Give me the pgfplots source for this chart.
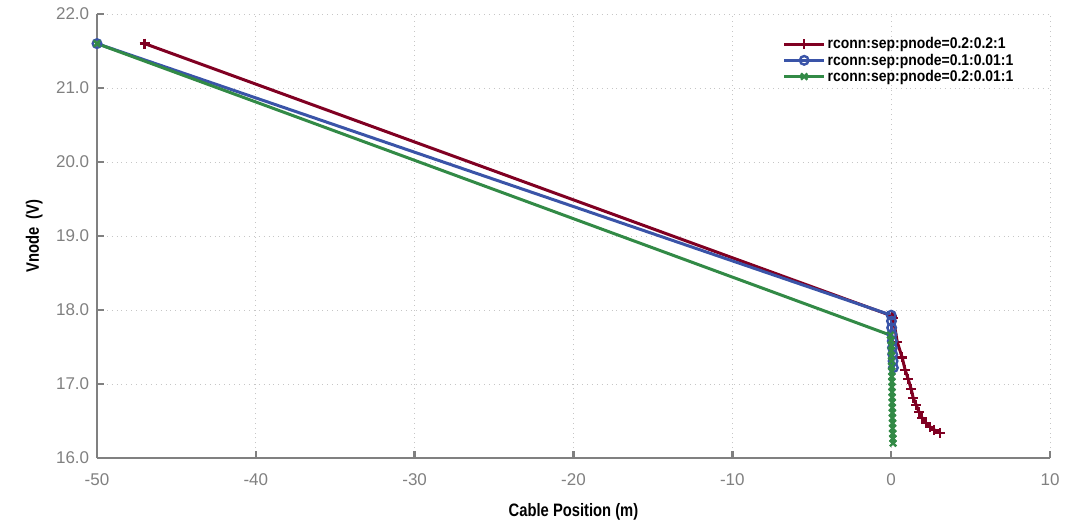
\documentclass[border=0pt]{standalone}
\usepackage{fontspec}
\setmainfont{DejaVu Sans}
\newfontfamily\narrowfont[FakeStretch=0.82]{Liberation Sans}
\newfontfamily\legfont[FakeStretch=0.9]{Liberation Sans}
\newfontfamily\tickfont{Liberation Sans}
\usepackage{pgfplots}
\pgfplotsset{compat=1.18}
\definecolor{cred}{RGB}{128,0,34}
\definecolor{cblue}{RGB}{58,84,168}
\definecolor{cgreen}{RGB}{50,138,70}
\definecolor{axgray}{RGB}{128,128,128}
\begin{document}
\begin{tikzpicture}
\path[use as bounding box] (-97pt,-66pt) rectangle (984pt,458pt);
\begin{axis}[
  at={(0,0)}, anchor=south west,
  scale only axis, width=953pt, height=444pt,
  xmin=-50, xmax=10, ymin=16, ymax=22,
  axis x line*=bottom, axis y line*=left,
  axis line style={axgray, line width=2.5pt},
  xtick={-50,-40,...,10}, ytick={16,17,...,22},
  tick style={axgray, line width=2.5pt},
  major tick length=7pt, tick align=inside,
  grid=major,
  grid style={line width=0.9pt, gray!45, dash pattern=on 0.9pt off 4pt},
  /pgf/number format/assume math mode=true,
  yticklabel style={/pgf/number format/fixed, /pgf/number format/fixed zerofill, /pgf/number format/precision=1, anchor=east, xshift=-4.3pt},
  ticklabel style={font=\tickfont\fontsize{17}{20}\selectfont, text=axgray},
  xticklabel style={anchor=center, yshift=-22pt},
  xlabel={\narrowfont\bfseries\fontsize{18}{21}\selectfont Cable Position (m)},
  ylabel={\narrowfont\bfseries\fontsize{18}{21}\selectfont Vnode\ \ (V)},
  xlabel style={at={(axis description cs:0.5,-0.1216)}, anchor=center},
  ylabel style={at={(axis description cs:-0.066,0.5)}, anchor=center},
  legend style={draw=none, fill=none, at={(0.967,0.956)}, anchor=north east,
    font=\legfont\bfseries\fontsize{15.5}{15.5}\selectfont, row sep=-0.5pt},
  legend cell align=left,
  legend image code/.code={\draw[mark repeat=2,mark phase=2] plot coordinates {(0pt,0pt) (20pt,0pt) (40pt,0pt)};},
]
\addplot[cred, line width=3pt, mark=+, mark size=5pt, mark options={line width=2.4pt}] coordinates {
(-47,21.6) (0.05,17.92) (0.13,17.89) (0.38,17.57) (0.69,17.36) (0.88,17.19) (1.07,17.07)
(1.26,16.93) (1.39,16.81) (1.57,16.72) (1.76,16.62) (1.95,16.54) (2.2,16.47)
(2.46,16.42) (2.71,16.38) (3.09,16.34)};
\addlegendentry{rconn:sep:pnode=0.2:0.2:1}
\addplot[cblue, line width=3pt, mark=o, mark size=4.3pt, mark options={line width=2.4pt}] coordinates {
(-50,21.6) (0.0,17.93) (0.02,17.85) (0.03,17.76) (0.05,17.67) (0.07,17.58) (0.08,17.49)
(0.1,17.40) (0.12,17.31) (0.14,17.22)};
\addlegendentry{rconn:sep:pnode=0.1:0.01:1}
\addplot[cgreen, line width=3pt, mark=x, mark size=4.5pt, mark options={line width=2.4pt}] coordinates {
(-50,21.6) (-0.05,17.66) (0.0,17.59) (0.01,17.52) (0.02,17.45) (0.02,17.38) (0.03,17.31)
(0.03,17.24) (0.04,17.17) (0.04,17.10) (0.05,17.03) (0.05,16.96) (0.06,16.89)
(0.06,16.82) (0.07,16.75) (0.07,16.68) (0.08,16.61) (0.08,16.54) (0.09,16.47)
(0.09,16.40) (0.10,16.33) (0.11,16.26) (0.12,16.20)};
\addlegendentry{rconn:sep:pnode=0.2:0.01:1}
\end{axis}
\end{tikzpicture}
\end{document}
